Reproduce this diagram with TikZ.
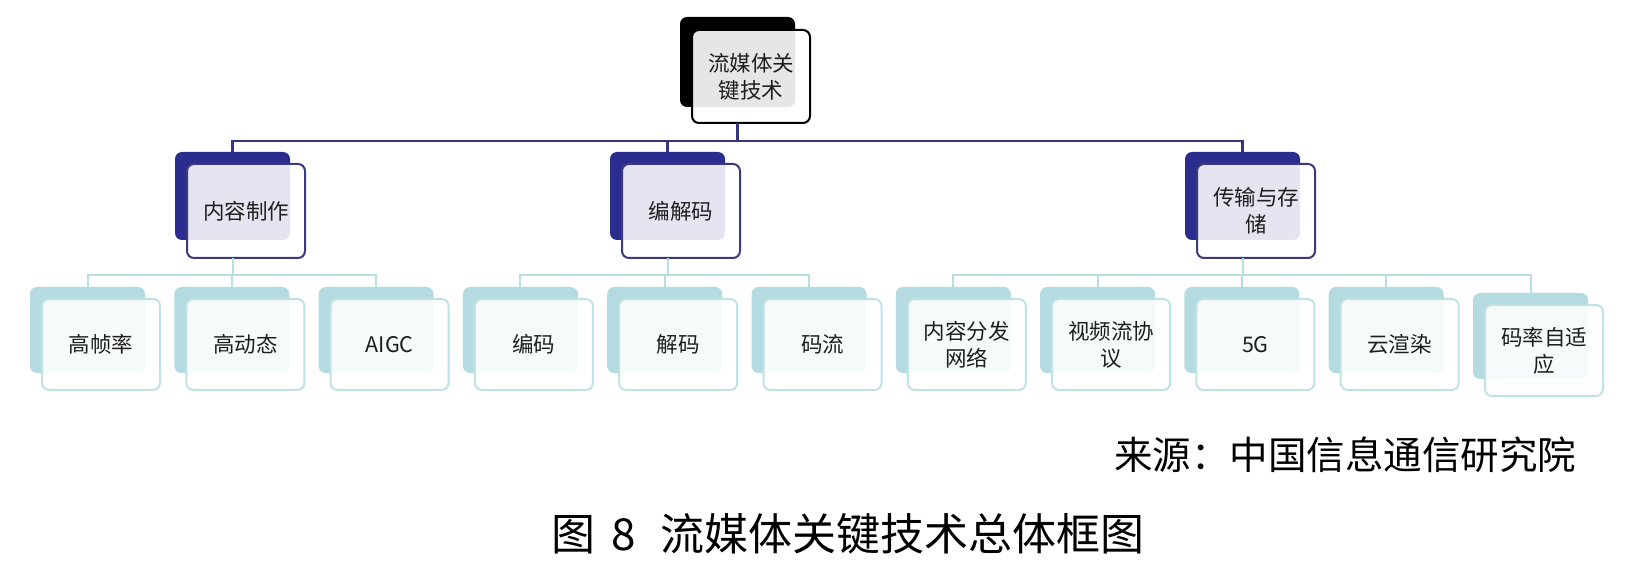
\documentclass[tikz,border=0pt]{standalone}
\usepackage{fontspec}
\setmainfont{Noto Sans CJK SC}
\definecolor{navy}{HTML}{2B2D8E}
\definecolor{navyline}{HTML}{36337F}
\definecolor{navyborder}{HTML}{3C3A7E}
\definecolor{teal}{HTML}{B4DCE0}
\definecolor{tealline}{HTML}{BADDE1}
\definecolor{tealborder}{HTML}{C2E1E5}
\definecolor{txt}{HTML}{1E1E1E}
\begin{document}
\begin{tikzpicture}[x=1pt,y=-1pt,
  box/.style={rectangle, rounded corners=7pt, anchor=north west, inner sep=0pt, outer sep=0pt},
  topback/.style={box, fill=black, minimum width=115pt, minimum height=90pt},
  topfront/.style={box, draw=black, line width=2pt, fill=white, fill opacity=0.9, text opacity=1,
    minimum width=118pt, minimum height=93pt, align=center, text=txt, font=\fontsize{21.5pt}{27pt}\selectfont},
  midback/.style={box, fill=navy, minimum width=115pt, minimum height=88pt},
  midfront/.style={box, draw=navyborder, line width=2pt, fill=white, fill opacity=0.88, text opacity=1,
    minimum width=118pt, minimum height=94pt, align=center, text=txt, font=\fontsize{21.5pt}{27pt}\selectfont},
  lowback/.style={box, fill=teal, minimum width=115pt, minimum height=86pt},
  lowfront/.style={box, draw=tealborder, line width=2pt, fill=white, fill opacity=0.88, text opacity=1,
    minimum width=118pt, minimum height=91pt, align=center, text=txt, font=\fontsize{21.5pt}{27pt}\selectfont},
  lineA/.style={draw=navyline, line width=2.2pt},
  lineB/.style={draw=tealline, line width=2pt}
]
\useasboundingbox (0,0) rectangle (1634,580);
\fill[white] (0,0) rectangle (1634,580);

% top node
\node[topback] (b0) at (680,17) {};
\node[topfront] (f0) at (692,30) {流媒体关\\键技术};

% level 2
\node[midback] (bA) at (175,152) {};
\node[midfront] (fA) at (187,164) {内容制作};
\node[midback] (bB) at (610,152) {};
\node[midfront] (fB) at (622,164) {编解码};
\node[midback] (bC) at (1185,152) {};
\node[midfront] (fC) at (1197,164) {传输与存\\储};

% level 3
\node[lowback] (b1) at (30,287) {};
\node[lowfront] (f1) at (42,299) {高帧率};
\node[lowback] (b2) at (174.3,287) {};
\node[lowfront] (f2) at (186.3,299) {高动态};
\node[lowback] (b3) at (318.6,287) {};
\node[lowfront] (f3) at (330.6,299) {AIGC};
\node[lowback] (b4) at (462.9,287) {};
\node[lowfront] (f4) at (474.9,299) {编码};
\node[lowback] (b5) at (607.2,287) {};
\node[lowfront] (f5) at (619.2,299) {解码};
\node[lowback] (b6) at (751.5,287) {};
\node[lowfront] (f6) at (763.5,299) {码流};
\node[lowback] (b7) at (895.8,287) {};
\node[lowfront] (f7) at (907.8,299) {内容分发\\网络};
\node[lowback] (b8) at (1040.1,287) {};
\node[lowfront] (f8) at (1052.1,299) {视频流协\\议};
\node[lowback] (b9) at (1184.4,287) {};
\node[lowfront] (f9) at (1196.4,299) {5G};
\node[lowback] (b10) at (1328.7,287) {};
\node[lowfront] (f10) at (1340.7,299) {云渲染};
\node[lowback] (b11) at (1473,293) {};
\node[lowfront] (f11) at (1485,305) {码率自适\\应};

% connectors level 1 -> 2
\coordinate (bus1) at (0,141);
\draw[lineA] (b0 |- f0.south) -- (b0 |- bus1);
\draw[lineA, line cap=rect] (bA |- bus1) -- (bC |- bus1);
\foreach \n in {A,B,C} \draw[lineA] (b\n |- bus1) -- (b\n.north);

% connectors level 2 -> 3
\coordinate (bus2) at (0,275);
\draw[lineB] (bA |- fA.south) -- (bA |- bus2);
\draw[lineB] (bB |- fB.south) -- (bB |- bus2);
\draw[lineB] (bC |- fC.south) -- (bC |- bus2);
\draw[lineB, line cap=rect] (b1 |- bus2) -- (b3 |- bus2);
\draw[lineB, line cap=rect] (b4 |- bus2) -- (b6 |- bus2);
\draw[lineB, line cap=rect] (b7 |- bus2) -- (b11 |- bus2);
\foreach \n in {1,...,11} \draw[lineB] (b\n |- bus2) -- (b\n.north);

% source and caption
\node[font=\fontsize{38.5pt}{40pt}\selectfont, text=black, inner sep=0pt] (src) at (1345,455) {来源：中国信息通信研究院};
\node[font=\fontsize{44pt}{46pt}\selectfont, text=black, inner sep=0pt] (cap) at (848,534) {图\hspace{16pt}8\hspace{24pt}流媒体关键技术总体框图};
\end{tikzpicture}
\end{document}
